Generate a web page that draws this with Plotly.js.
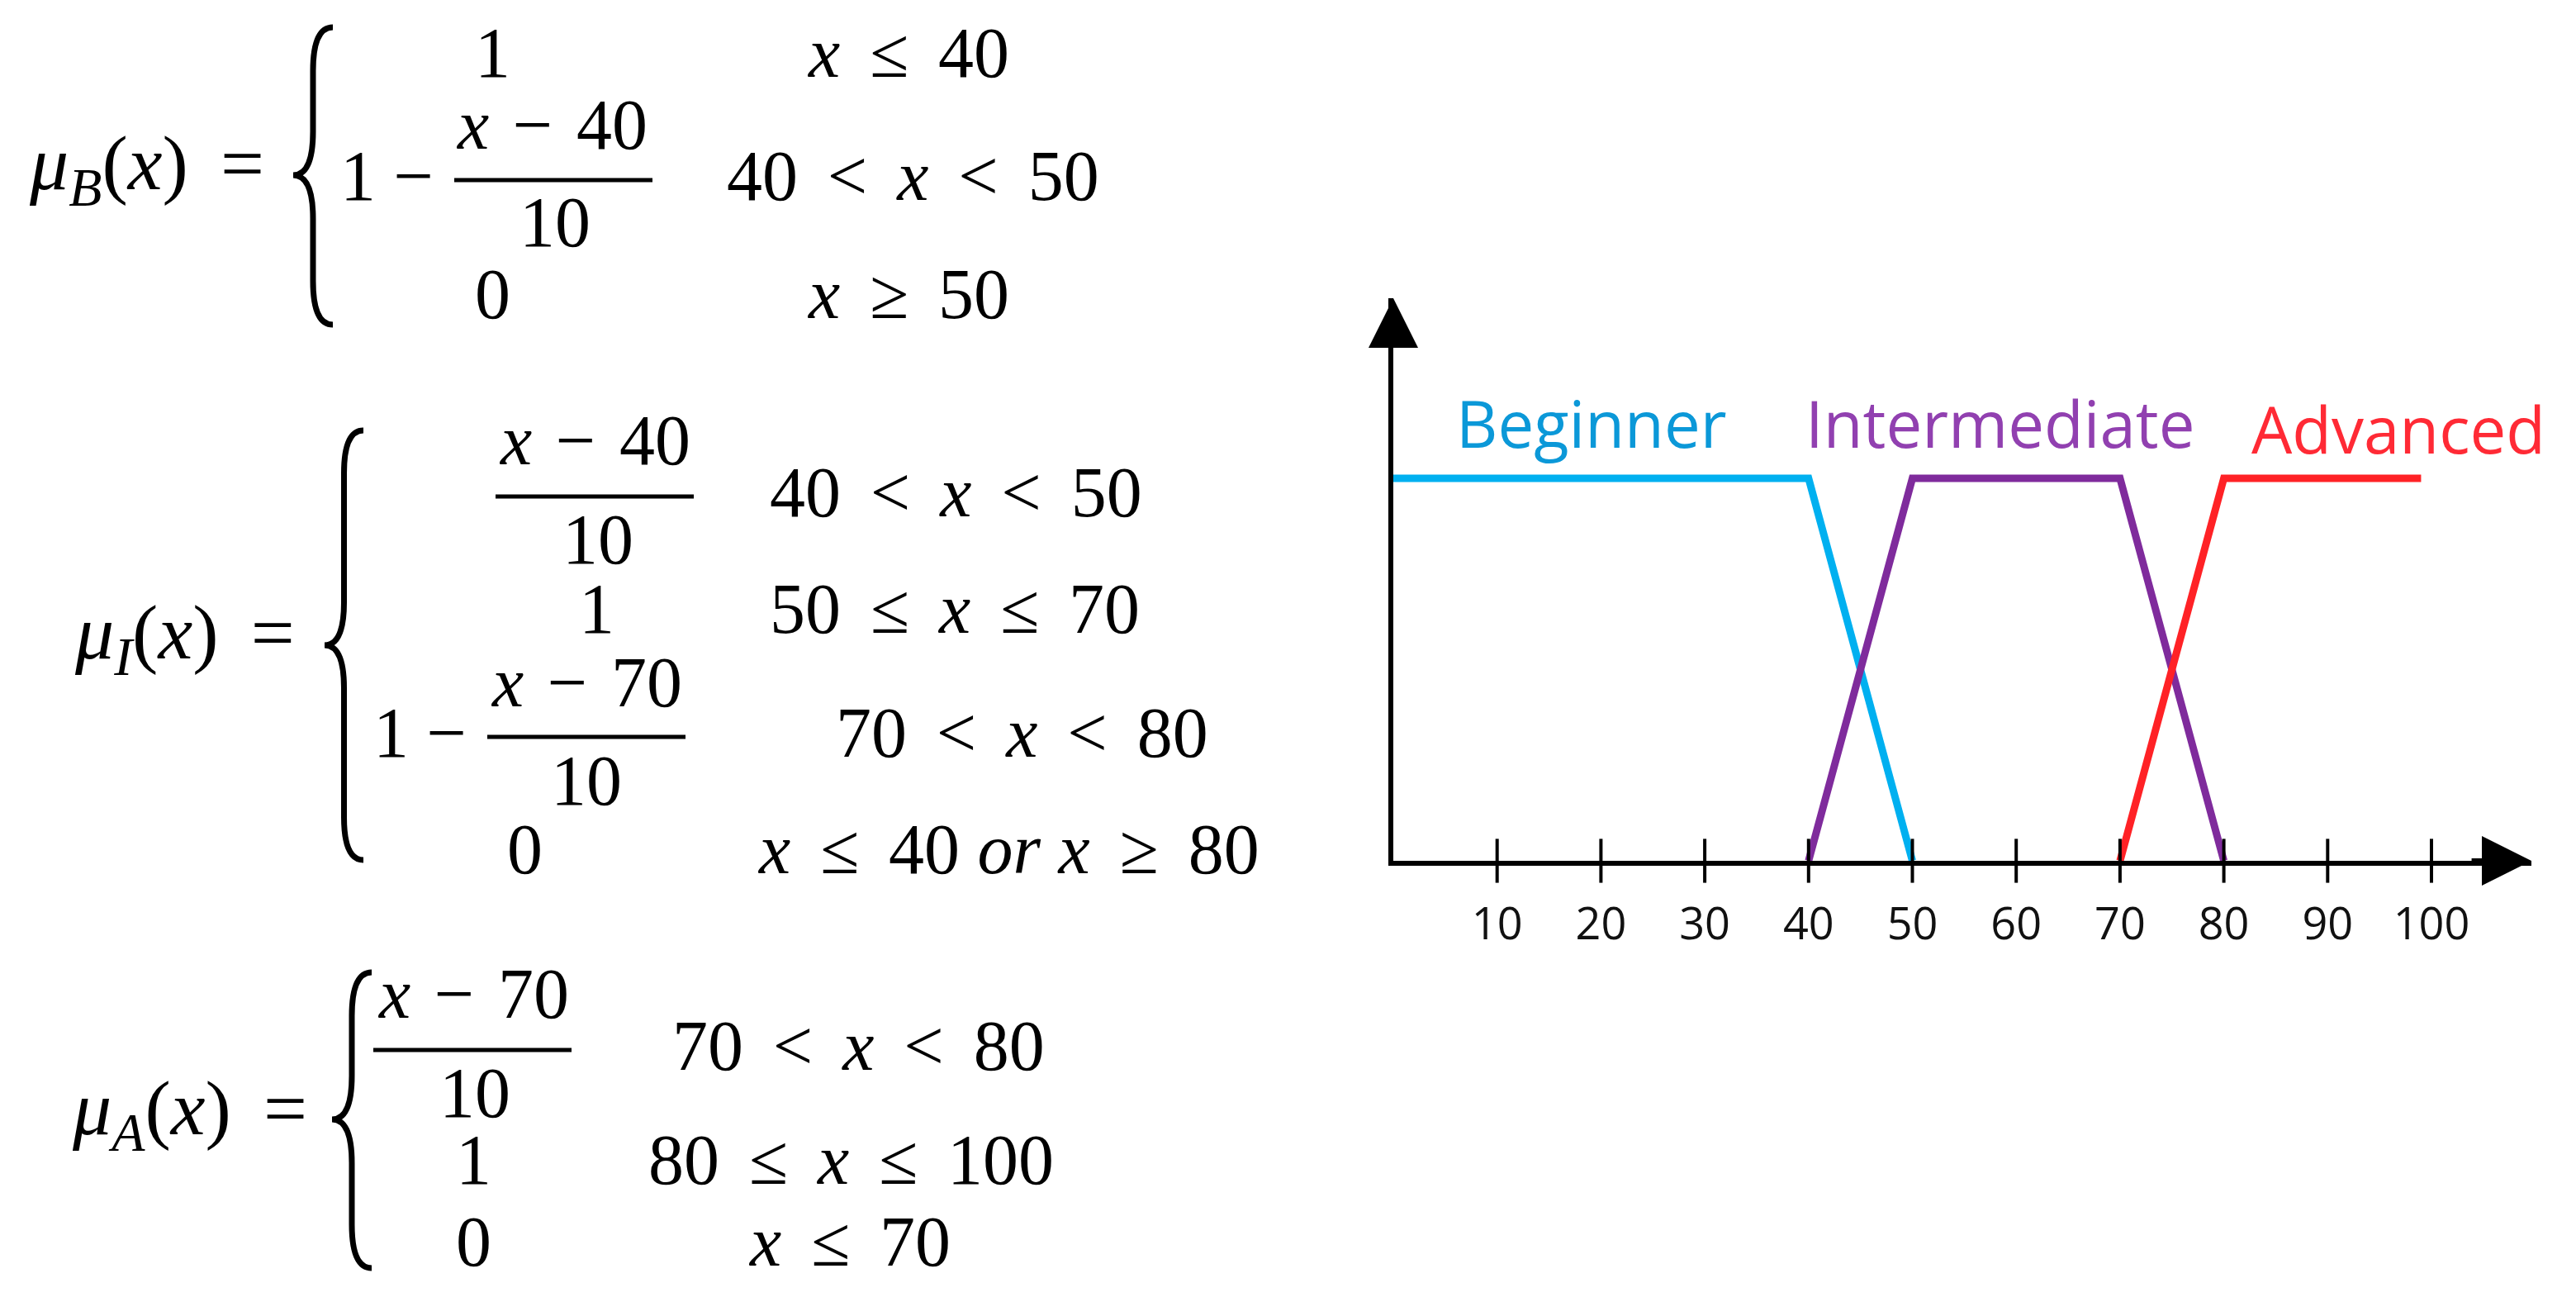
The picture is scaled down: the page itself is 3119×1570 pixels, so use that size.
<!DOCTYPE html>
<html>
<head>
<meta charset="utf-8">
<script src="https://cdn.plot.ly/plotly-3.0.1.min.js"></script>
<style>
  html, body { margin: 0; padding: 0; background: #ffffff; }
  #plotly_graph { width: 3119px; height: 1570px; }
</style>
</head>
<body>
<div id="plotly_graph"></div>
<script>
//**************************************************************************
//~~~~~~~~~~~~~~~~~~~~~~~~~~~~~~~~~~ DATA ~~~~~~~~~~~~~~~~~~~~~~~~~~~~~~~~~~
//**************************************************************************

const SET_NAMES = ['Beginner', 'Intermediate', 'Advanced']

const X_BEGINNER = [0, 40, 50]
const Y_BEGINNER = [1, 1, 0]

const X_INTERMEDIATE = [40, 50, 70, 80]
const Y_INTERMEDIATE = [0, 1, 1, 0]

const X_ADVANCED = [70, 80, 99]
const Y_ADVANCED = [0, 1, 1]

const TICK_VALUES = [10, 20, 30, 40, 50, 60, 70, 80, 90, 100]
const TICK_LABELS = ['10', '20', '30', '40', '50', '60', '70', '80', '90', '100']

// where each set name starts, in data units (x, y)
const LABEL_X = [5.9, 39.5, 82.5]
const LABEL_Y = [1.145, 1.145, 1.13]

const LINE_COLORS = ['#00b0f0', '#7f2b9c', '#ff2226']
const TEXT_COLORS = ['#0b98d8', '#9140b0', '#ff2a35']


//**************************************************************************
//~~~~~~~~~~~~~~~~~~~~~~~~~~~~~~~~~ HELPERS ~~~~~~~~~~~~~~~~~~~~~~~~~~~~~~~~
//**************************************************************************

const W = 3119
const H = 1570

// pixel -> paper
const px = (x) => x / W
const py = (y) => 1 - y / H

const SP = '\u2004\u200A'   // math spacing round relations
const MINUS = '\u2212'

const EQ_FAMILY = 'Liberation Serif, Times New Roman, serif'
const EQ_FONT = { family: EQ_FAMILY, size: 86, color: '#000000' }
const LHS_FONT = { family: EQ_FAMILY, size: 94, color: '#000000' }

let annotations = []
let shapes = []

function eqText(x, y, text, anchor, font) {
    annotations.push({
        xref: 'paper', yref: 'paper',
        x: px(x), y: py(y),
        text: text,
        showarrow: false,
        xanchor: anchor || 'left',
        yanchor: 'middle',
        font: font || EQ_FONT
    })
}

function fracBar(x0, x1, y) {
    shapes.push({
        type: 'line', xref: 'paper', yref: 'paper',
        x0: px(x0), x1: px(x1), y0: py(y), y1: py(y),
        line: { color: '#000000', width: 5 }
    })
}

function brace(xl, xr, top, bot, mid) {
    let xm = (xl + xr) / 2
    let d = (xr - xl) * 1.1
    let p = (x, y) => px(x).toFixed(5) + ',' + py(y).toFixed(5)
    let path = 'M' + p(xr, top) +
        ' Q' + p(xm, top) + ' ' + p(xm, top + d) +
        ' L' + p(xm, mid - d) +
        ' Q' + p(xm, mid) + ' ' + p(xl, mid) +
        ' Q' + p(xm, mid) + ' ' + p(xm, mid + d) +
        ' L' + p(xm, bot - d) +
        ' Q' + p(xm, bot) + ' ' + p(xr, bot)
    shapes.push({
        type: 'path', xref: 'paper', yref: 'paper', path: path,
        line: { color: '#000000', width: 7 }
    })
}

const X = '<i>x</i>'
const lhs = (sub) => '<i>μ</i><sub><i>' + sub + '</i></sub>(' + X + ')' + SP + '='


//**************************************************************************
//~~~~~~~~~~~~~~~~~~~~~~~~~~~~~~~ EQUATIONS ~~~~~~~~~~~~~~~~~~~~~~~~~~~~~~~~
//**************************************************************************

// ---- mu_B
eqText(33, 204, lhs('B'), 'left', LHS_FONT)
brace(355, 403, 33, 393, 212)
eqText(596, 64, '1', 'center')
eqText(975, 64, X + SP + '≤' + SP + '40')
eqText(410, 213, '1 ' + MINUS)
eqText(668, 151, X + '\u2004' + MINUS + '\u2004' + '40', 'center')
fracBar(550, 790, 218)
eqText(672, 269, '10', 'center')
eqText(878, 213, '40' + SP + '<' + SP + X + SP + '<' + SP + '50')
eqText(596, 356, '0', 'center')
eqText(975, 356, X + SP + '≥' + SP + '50')

// ---- mu_I
eqText(88, 772, lhs('I'), 'left', LHS_FONT)
brace(393, 440, 521, 1041, 781)
eqText(720, 533, X + '\u2004' + MINUS + '\u2004' + '40', 'center')
fracBar(600, 840, 601)
eqText(724, 653, '10', 'center')
eqText(930, 596, '40' + SP + '<' + SP + X + SP + '<' + SP + '50')
eqText(722, 737, '1', 'center')
eqText(930, 737, '50' + SP + '≤' + SP + X + SP + '≤' + SP + '70')
eqText(450, 887, '1 ' + MINUS)
eqText(710, 826, X + '\u2004' + MINUS + '\u2004' + '70', 'center')
fracBar(590, 830, 892)
eqText(710, 945, '10', 'center')
eqText(1010, 887, '70' + SP + '<' + SP + X + SP + '<' + SP + '80')
eqText(635, 1028, '0', 'center')
eqText(915, 1028, X + SP + '≤' + SP + '40 <i>or</i> ' + X + SP + '≥' + SP + '80')

// ---- mu_A
eqText(85, 1348, lhs('A'), 'left', LHS_FONT)
brace(402, 450, 1177, 1535, 1355)
eqText(573, 1203, X + '\u2004' + MINUS + '\u2004' + '70', 'center')
fracBar(452, 692, 1271)
eqText(575, 1323, '10', 'center')
eqText(812, 1266, '70' + SP + '<' + SP + X + SP + '<' + SP + '80')
eqText(573, 1404, '1', 'center')
eqText(783, 1404, '80' + SP + '≤' + SP + X + SP + '≤' + SP + '100')
eqText(573, 1503, '0', 'center')
eqText(904, 1503, X + SP + '≤' + SP + '70')


//**************************************************************************
//~~~~~~~~~~~~~~~~~~~~~~~~~~~~~~~~~ CHART ~~~~~~~~~~~~~~~~~~~~~~~~~~~~~~~~~~
//**************************************************************************

// axis geometry in pixels: origin, x arrow tip, y arrow tip, y=1 level
const ORIGIN_X = 1687, ORIGIN_Y = 1042
const X_TIP = 3065, Y_TIP = 361
const PX_PER_X = 12.57, PX_PER_Y = 463

const X_MAX = (X_TIP - ORIGIN_X) / PX_PER_X
const Y_MAX = (ORIGIN_Y - Y_TIP) / PX_PER_Y

let traces = [
    { x: X_BEGINNER, y: Y_BEGINNER },
    { x: X_INTERMEDIATE, y: Y_INTERMEDIATE },
    { x: X_ADVANCED, y: Y_ADVANCED }
].map((t, i) => ({
    name: SET_NAMES[i],
    type: 'scatter',
    mode: 'lines',
    x: t.x,
    y: t.y,
    cliponaxis: false,
    line: { color: LINE_COLORS[i], width: 9 },
    hoverinfo: 'skip'
}))

// tick marks that cross the x axis
traces.push({
    type: 'scatter',
    mode: 'markers',
    x: TICK_VALUES,
    y: TICK_VALUES.map(() => 0),
    cliponaxis: false,
    marker: { symbol: 'line-ns', size: 38, line: { color: '#000000', width: 4 } },
    hoverinfo: 'skip'
})

SET_NAMES.forEach((name, i) => {
    annotations.push({
        xref: 'x', yref: 'y',
        x: LABEL_X[i], y: LABEL_Y[i],
        text: name,
        showarrow: false,
        xanchor: 'left',
        yanchor: 'middle',
        font: { family: 'Open Sans, DejaVu Sans, sans-serif', size: 78, color: TEXT_COLORS[i] }
    })
})

// arrow heads on both axes
annotations.push({
    xref: 'x', yref: 'y', axref: 'x', ayref: 'y',
    x: X_MAX, y: 0, ax: X_MAX - 6, ay: 0,
    text: ' ', showarrow: true,
    arrowhead: 2, arrowsize: 2, arrowwidth: 6, arrowcolor: '#000000'
})
annotations.push({
    xref: 'x', yref: 'y', axref: 'x', ayref: 'y',
    x: 0, y: Y_MAX, ax: 0, ay: Y_MAX - 0.15,
    text: ' ', showarrow: true,
    arrowhead: 2, arrowsize: 2, arrowwidth: 6, arrowcolor: '#000000'
})


//**************************************************************************
//~~~~~~~~~~~~~~~~~~~~~~~~~~~~~~~~~ LAYOUT ~~~~~~~~~~~~~~~~~~~~~~~~~~~~~~~~~
//**************************************************************************

let layout = {
    width: W,
    height: H,
    margin: { t: 0, r: 0, b: 0, l: 0 },
    paper_bgcolor: '#ffffff',
    plot_bgcolor: '#ffffff',
    showlegend: false,
    xaxis: {
        domain: [px(ORIGIN_X), px(X_TIP)],
        range: [0, X_MAX],
        showline: true,
        linecolor: '#000000',
        linewidth: 6,
        showgrid: false,
        zeroline: false,
        tickvals: TICK_VALUES,
        ticktext: TICK_LABELS,
        ticks: 'outside',
        ticklen: 24,
        tickcolor: 'rgba(0,0,0,0)',
        tickfont: { family: 'Open Sans, DejaVu Sans, sans-serif', size: 54, color: '#111111' }
    },
    yaxis: {
        domain: [py(ORIGIN_Y), py(Y_TIP)],
        range: [0, Y_MAX],
        showline: true,
        linecolor: '#000000',
        linewidth: 6,
        showgrid: false,
        zeroline: false,
        showticklabels: false,
        ticks: ''
    },
    shapes: shapes,
    annotations: annotations
}

const config = {
    displaylogo: false,
    displayModeBar: false,
    staticPlot: true
}

Plotly.newPlot('plotly_graph', traces, layout, config)
</script>
</body>
</html>
